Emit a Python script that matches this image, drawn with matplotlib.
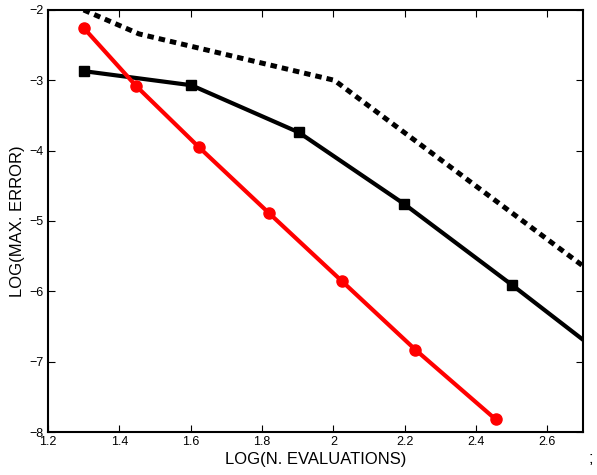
import matplotlib
matplotlib.use('Agg')
import matplotlib.pyplot as plt

plt.rcParams['font.family'] = ['Liberation Sans', 'DejaVu Sans']

# red curve (circles)
red_x = [1.301, 1.447, 1.623, 1.820, 2.025, 2.230, 2.455]
red_y = [-2.26, -3.08, -3.95, -4.89, -5.86, -6.83, -7.82]

# black solid curve (squares), last point lies past the axis edge
blk_x = [1.301, 1.602, 1.903, 2.199, 2.501, 2.80]
blk_y = [-2.87, -3.07, -3.74, -4.76, -5.91, -7.08]

# dotted reference line
dot_x = [1.30, 1.455, 2.003, 2.70]
dot_y = [-2.00, -2.34, -3.00, -5.64]

fig = plt.figure(figsize=(5.97, 4.75), dpi=100)
ax = fig.add_axes([0.0804, 0.0905, 0.8962, 0.8885])

ax.plot(dot_x, dot_y, color='black', lw=3.6, linestyle=(0, (1.3, 1.0)))
ax.plot(blk_x, blk_y, color='black', lw=3, marker='s', ms=7.5,
        markevery=list(range(len(blk_x) - 1)))
ax.plot(red_x, red_y, color='red', lw=3, marker='o', ms=8)

ax.set_xlim(1.2, 2.7)
ax.set_ylim(-8, -2)
ax.set_xticks([1.2, 1.4, 1.6, 1.8, 2.0, 2.2, 2.4, 2.6])
ax.set_xticklabels(['1.2', '1.4', '1.6', '1.8', '2', '2.2', '2.4', '2.6'])
ax.set_yticks([-8, -7, -6, -5, -4, -3, -2])
ax.set_yticklabels(['\u22128', '\u22127', '\u22126', '\u22125', '\u22124', '\u22123', '\u22122'])
ax.tick_params(direction='in', top=True, right=True, labelsize=9, length=5)
ax.tick_params(axis='x', pad=3)
ax.tick_params(axis='y', pad=3)
for s in ax.spines.values():
    s.set_linewidth(1.5)

ax.set_xlabel('LOG(N. EVALUATIONS)', fontsize=12, labelpad=3)
ax.set_ylabel('LOG(MAX. ERROR)', fontsize=12, labelpad=3)

fig.text(0.99, 0.035, ';', fontsize=12, ha='center', va='center')

fig.savefig('out.png', dpi=100)
